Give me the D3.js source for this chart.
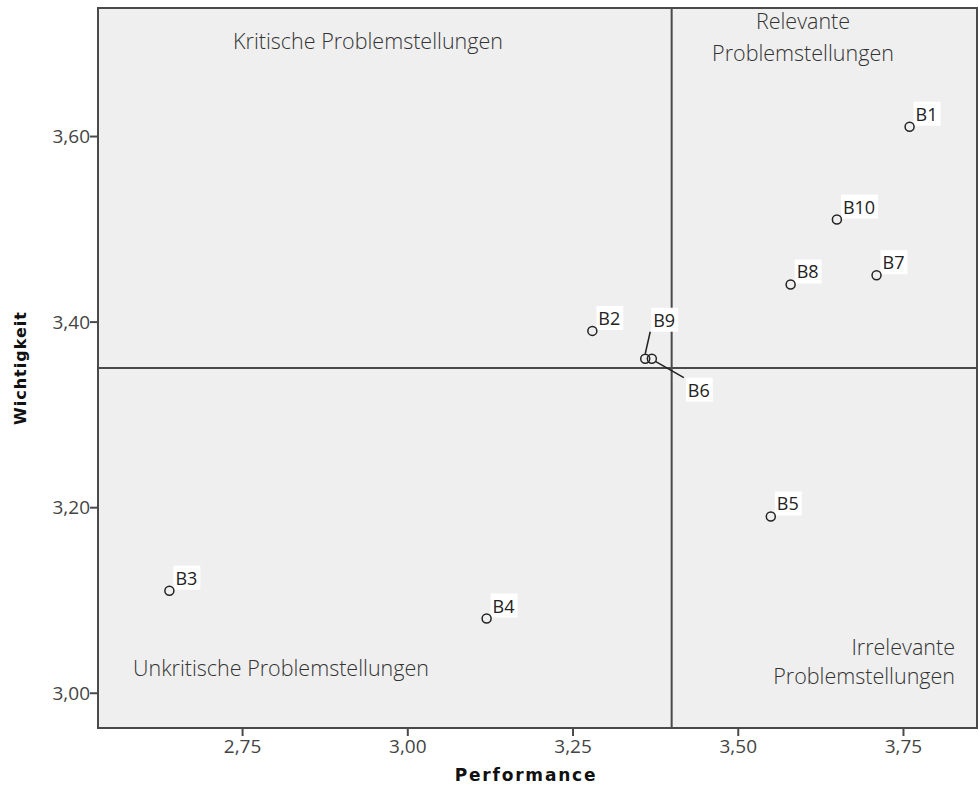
<!DOCTYPE html>
<html>
<head>
<meta charset="utf-8">
<script src="https://cdn.jsdelivr.net/npm/d3@7"></script>
<style>
  body { margin: 0; background: #fff; }
  text { font-family: "Open Sans", "Noto Sans", sans-serif; }
</style>
</head>
<body>
<svg width="979" height="787"></svg>
<script>
"use strict";

var names = ["B1", "B2", "B3", "B4", "B5", "B6", "B7", "B8", "B9", "B10"];
var performance = [3.76, 3.28, 2.64, 3.12, 3.55, 3.37, 3.71, 3.58, 3.36, 3.65];
var wichtigkeit = [3.61, 3.39, 3.11, 3.08, 3.19, 3.36, 3.45, 3.44, 3.36, 3.51];
var xTicks = [2.75, 3.00, 3.25, 3.50, 3.75];
var yTicks = [3.00, 3.20, 3.40, 3.60];
var xRef = 3.40;
var yRef = 3.35;

var points = names.map(function (n, i) {
    return { name: n, x: performance[i], y: wichtigkeit[i] };
});

var svg = d3.select('svg');
var pLeft = 98, pTop = 8, pRight = 977, pBottom = 728;

var x = d3.scaleLinear().domain([2.532, 3.862]).range([pLeft, pRight]);
var y = d3.scaleLinear().domain([2.962, 3.738]).range([pBottom, pTop]);

var fmt = function (d) { return d3.format('.2f')(d).replace('.', ','); };

// Frame
svg.append('rect')
    .attr('x', pLeft).attr('y', pTop)
    .attr('width', pRight - pLeft).attr('height', pBottom - pTop)
    .attr('fill', '#efefef')
    .attr('stroke', '#4a4a4a')
    .attr('stroke-width', 2);

// Axes
var xAxis = svg.append('g')
    .attr('transform', 'translate(0,' + pBottom + ')')
    .call(d3.axisBottom(x).tickValues(xTicks).tickFormat(fmt).tickSize(8).tickSizeOuter(0));
var yAxis = svg.append('g')
    .attr('transform', 'translate(' + pLeft + ',0)')
    .call(d3.axisLeft(y).tickValues(yTicks).tickFormat(fmt).tickSize(8).tickSizeOuter(0));

[xAxis, yAxis].forEach(function (g) {
    g.attr('font-family', null).attr('font-size', 19);
    g.select('.domain').remove();
    g.selectAll('line').attr('stroke', '#4a4a4a').attr('stroke-width', 2);
    g.selectAll('text')
        .attr('fill', '#444')
        .attr('font-size', 19)
        .style('font-size', '19px');
});
xAxis.selectAll('text').attr('y', 11).attr('dy', '0.75em');
yAxis.selectAll('text').attr('x', -8).attr('dy', '0.35em');

// Reference lines
svg.append('line')
    .attr('x1', x(xRef)).attr('x2', x(xRef))
    .attr('y1', pTop).attr('y2', pBottom)
    .attr('stroke', '#4a4a4a').attr('stroke-width', 2);
svg.append('line')
    .attr('x1', pLeft).attr('x2', pRight)
    .attr('y1', y(yRef)).attr('y2', y(yRef))
    .attr('stroke', '#4a4a4a').attr('stroke-width', 2);

// Axis titles
svg.append('text')
    .attr('x', 526).attr('y', 781)
    .attr('text-anchor', 'middle')
    .style('font-family', '"DejaVu Sans", sans-serif')
    .style('font-size', '17px').style('font-weight', 'bold')
    .style('letter-spacing', '1.8px')
    .attr('fill', '#111')
    .text('Performance');
svg.append('text')
    .attr('transform', 'translate(26,368) rotate(-90)')
    .attr('text-anchor', 'middle')
    .style('font-family', '"DejaVu Sans", sans-serif')
    .style('font-size', '16px').style('font-weight', 'bold')
    .style('letter-spacing', '1px')
    .attr('fill', '#111')
    .text('Wichtigkeit');

// Quadrant labels
var quad = svg.append('g').attr('fill', '#333').style('font-size', '21.5px').style('font-weight', 300);
quad.append('text').attr('x', 368).attr('y', 49).attr('text-anchor', 'middle').text('Kritische Problemstellungen');
quad.append('text').attr('x', 803).attr('y', 29).attr('text-anchor', 'middle').text('Relevante');
quad.append('text').attr('x', 803).attr('y', 61).attr('text-anchor', 'middle').text('Problemstellungen');
quad.append('text').attr('x', 955).attr('y', 655).attr('text-anchor', 'end').text('Irrelevante');
quad.append('text').attr('x', 955).attr('y', 684).attr('text-anchor', 'end').text('Problemstellungen');
quad.append('text').attr('x', 133).attr('y', 676).text('Unkritische Problemstellungen');

// Label offsets (relative to point)
var offsets = {
    B9: { dx: 8, dy: -32, line: [[0, -5], [5, -27]] },
    B6: { dx: 36, dy: 38, line: [[4, 3], [32, 19]] }
};

// Leader lines
var leaders = points.filter(function (d) { return offsets[d.name]; });
svg.selectAll('line.leader')
    .data(leaders)
    .enter()
    .append('line')
    .classed('leader', true)
    .attr('x1', function (d) { return x(d.x) + offsets[d.name].line[0][0]; })
    .attr('y1', function (d) { return y(d.y) + offsets[d.name].line[0][1]; })
    .attr('x2', function (d) { return x(d.x) + offsets[d.name].line[1][0]; })
    .attr('y2', function (d) { return y(d.y) + offsets[d.name].line[1][1]; })
    .attr('stroke', '#222').attr('stroke-width', 1.5);

// Point labels
var labels = svg.selectAll('g.label')
    .data(points)
    .enter()
    .append('g')
    .classed('label', true)
    .attr('transform', function (d) {
        var o = offsets[d.name] || { dx: 6, dy: -6 };
        return 'translate(' + (x(d.x) + o.dx) + ',' + (y(d.y) + o.dy) + ')';
    });
var rects = labels.append('rect').attr('fill', '#fff');
labels.append('text')
    .attr('x', 0).attr('y', 0)
    .style('font-size', '18px')
    .attr('fill', '#222')
    .text(function (d) { return d.name; });
rects.each(function () {
    var bb = this.parentNode.querySelector('text').getBBox();
    d3.select(this)
        .attr('x', bb.x - 2).attr('y', -19)
        .attr('width', bb.width + 5).attr('height', 24);
});

// Points
svg.selectAll('circle.pt')
    .data(points)
    .enter()
    .append('circle')
    .classed('pt', true)
    .attr('cx', function (d) { return x(d.x); })
    .attr('cy', function (d) { return y(d.y); })
    .attr('r', 4.5)
    .attr('fill', 'none')
    .attr('stroke', '#222')
    .attr('stroke-width', 1.5);
</script>
</body>
</html>
